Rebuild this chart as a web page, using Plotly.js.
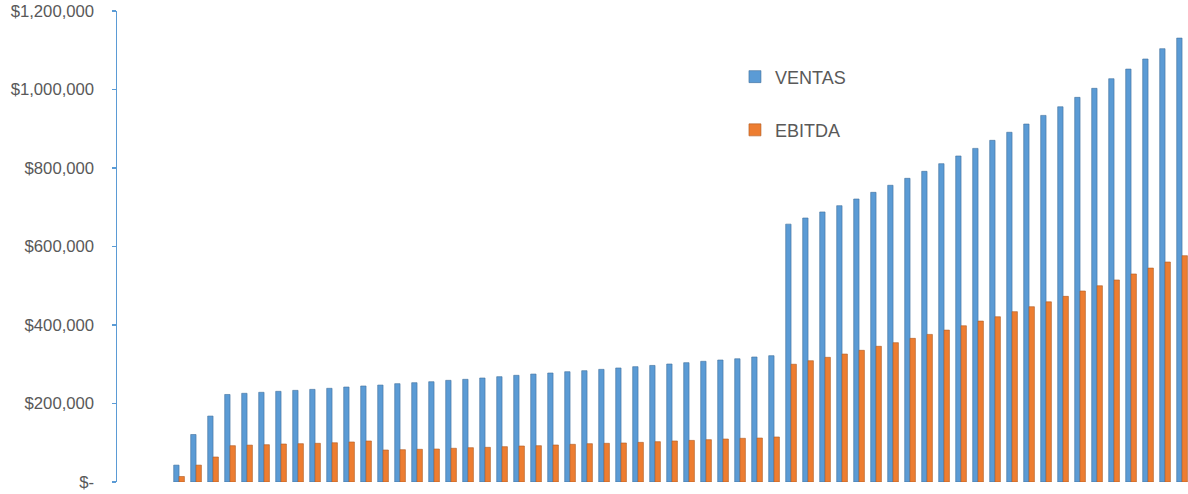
<!DOCTYPE html>
<html>
<head>
<meta charset="utf-8">
<script src="https://cdn.plot.ly/plotly-3.0.1.min.js"></script>
<style>html,body{margin:0;padding:0;background:#fff;}#chart{width:1188px;height:494px;}</style>
</head>
<body>
<div id="chart"></div>
<script>
// 63 categories; the first three are empty
const categories = Array.from({length: 63}, (_, i) => String(i + 1));

const ventas = [null, null, null,
  43000, 121000, 168000, 223000, 226000, 228500, 231000, 233500, 236000, 238700,
  242000, 244600, 247000, 250500, 253000, 255500, 259000, 261600, 265000, 268300,
  271800, 275000, 277700, 281000, 283600, 287000, 290500, 293800, 297000, 300600,
  304000, 307500, 310800, 314000, 318500, 321800,
  657000, 672600, 688000, 704000, 721000, 738000, 756000, 773700, 791500, 811000,
  830600, 850000, 870500, 891000, 912000, 934000, 956000, 980000, 1003000, 1027500,
  1052000, 1077700, 1104000, 1131000];

const ebitda = [null, null, null,
  14000, 43000, 63700, 92500, 94000, 95000, 96800, 97600, 98600, 100000,
  102000, 104500, 81500, 82300, 83300, 84000, 85900, 87400, 88300, 90000,
  91700, 92500, 94300, 96000, 97600, 98600, 99400, 101000, 102700, 104500,
  106000, 107800, 109500, 111300, 112000, 114700,
  300000, 309000, 317600, 326000, 335500, 345700, 355000, 366000, 376000, 387000,
  398000, 410000, 421000, 434000, 446600, 459000, 473000, 486600, 500000, 514700,
  530000, 545000, 560500, 576600];

const yTickVals = [0, 200000, 400000, 600000, 800000, 1000000, 1200000];
const yTickText = ['$-', '$200,000', '$400,000', '$600,000', '$800,000', '$1,000,000', '$1,200,000'];

const textColor = '#595959';
const fontFamily = '"Liberation Sans", Arial, sans-serif';

const traces = [
  {type: 'bar', name: 'VENTAS', x: categories, y: ventas,
   marker: {color: '#5B9BD5', line: {color: '#41719C', width: 0.6}}, legend: 'legend'},
  {type: 'bar', name: 'EBITDA', x: categories, y: ebitda,
   marker: {color: '#ED7D31', line: {color: '#AE5A21', width: 0.6}}, legend: 'legend2'}
];

const layout = {
  width: 1188, height: 494,
  margin: {l: 117, r: 0, t: 11, b: 12, pad: 0},
  paper_bgcolor: '#fff', plot_bgcolor: '#fff',
  barmode: 'group', bargap: 0.37, bargroupgap: 0,
  font: {family: fontFamily, color: textColor},
  xaxis: {type: 'category', range: [-0.65, 62.35], showticklabels: false,
          showgrid: false, zeroline: false, showline: false, ticks: ''},
  yaxis: {range: [0, 1200000], tickvals: yTickVals, ticktext: yTickText,
          showgrid: false, zeroline: false, showline: true, linecolor: '#5B9BD5', linewidth: 1.5,
          ticks: 'outside', ticklen: 4, tickwidth: 1.5, tickcolor: '#5B9BD5',
          ticklabelstandoff: 14, tickfont: {size: 16.7, color: textColor, family: fontFamily}},
  showlegend: true,
  legend: {x: 0.577, y: 0.86, xanchor: 'left', yanchor: 'middle', bgcolor: 'rgba(0,0,0,0)',
           font: {size: 18, color: textColor, family: fontFamily}},
  legend2: {x: 0.577, y: 0.747, xanchor: 'left', yanchor: 'middle', bgcolor: 'rgba(0,0,0,0)',
           font: {size: 18, color: textColor, family: fontFamily}}
};

Plotly.newPlot('chart', traces, layout, {displayModeBar: false, staticPlot: true});
</script>
</body>
</html>
